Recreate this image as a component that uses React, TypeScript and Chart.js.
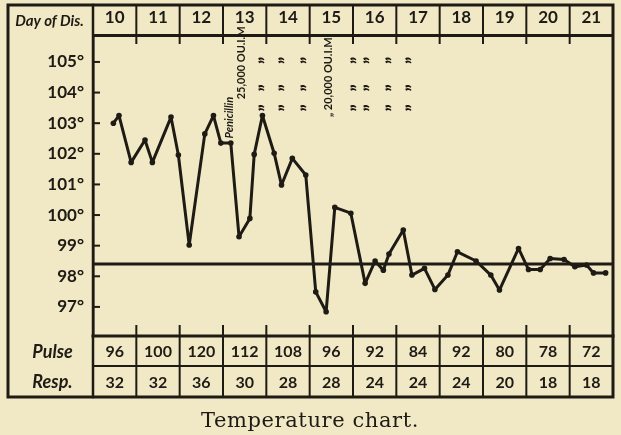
import React, { useEffect, useRef } from 'react';
import { Chart, registerables } from 'chart.js';

Chart.register(...registerables);

// ---- data ----
const dayLabels = ['10', '11', '12', '13', '14', '15', '16', '17', '18', '19', '20', '21'];
const pulseValues = [96, 100, 120, 112, 108, 96, 92, 84, 92, 80, 78, 72];
const respValues = [32, 32, 36, 30, 28, 28, 24, 24, 24, 20, 18, 18];
const tempTickValues = [97, 98, 99, 100, 101, 102, 103, 104, 105];
const normalTemp = 98.4;

// reading times (day of disease, fractional) and temperatures (°F)
const tempTimes = [
  10.47, 10.6, 10.88, 11.2, 11.37, 11.8, 11.97, 12.22, 12.58, 12.78, 12.95, 13.18,
  13.37, 13.62, 13.72, 13.91, 14.18, 14.35, 14.6, 14.91, 15.14, 15.38, 15.58, 15.95,
  16.28, 16.51, 16.7, 16.83, 17.16, 17.36, 17.65, 17.89, 18.19, 18.41, 18.84, 19.18,
  19.38, 19.82, 20.05, 20.32, 20.55, 20.87, 21.12, 21.39, 21.55, 21.83,
];
const tempValues = [
  103.0, 103.25, 101.72, 102.45, 101.72, 103.2, 101.96, 99.02, 102.65, 103.25, 102.35, 102.35,
  99.29, 99.89, 101.98, 103.25, 102.02, 100.98, 101.85, 101.31, 97.49, 96.84, 100.25, 100.06,
  97.77, 98.5, 98.2, 98.73, 99.51, 98.04, 98.26, 97.57, 98.04, 98.8, 98.5, 98.04,
  97.55, 98.91, 98.22, 98.22, 98.58, 98.55, 98.31, 98.37, 98.11, 98.11,
];

// penicillin notes
const noteTexts = ['Penicillin', '25,000 OU.I.M', '„ 20,000 OU.I.M'];
const noteTimes = [13.22, 13.5, 15.52];
const noteStartTemps = [102.5, 103.78, 103.2];
const dittoTimes = [13.92, 14.38, 14.89, 16.05, 16.35, 16.85, 17.32];
const dittoTemps = [105.05, 104.15, 103.5];

const captionText = 'Temperature chart.';

const PAPER = '#f1e9c6';
const INK = '#1e1a14';

const tablePlugin = {
  id: 'tempTable',
  beforeDraw(chart: any) {
    const { ctx, width, height } = chart;
    ctx.save();
    ctx.fillStyle = PAPER;
    ctx.fillRect(0, 0, width, height);
    ctx.restore();
  },
  afterDraw(chart: any) {
    const { ctx, chartArea } = chart;
    const xs = chart.scales.x;
    const ys = chart.scales.y;
    const L = 8, T = 5, R = chartArea.right, B = 397;
    const pulseTop = chartArea.bottom;
    const respTop = 366;
    ctx.save();
    ctx.strokeStyle = INK;
    ctx.fillStyle = INK;
    ctx.lineCap = 'square';

    // outer box
    ctx.lineWidth = 3;
    ctx.strokeRect(L, T, R - L, B - T);
    // left column separator
    ctx.lineWidth = 2.5;
    ctx.beginPath();
    ctx.moveTo(chartArea.left, T);
    ctx.lineTo(chartArea.left, B);
    ctx.stroke();
    // pulse top line
    ctx.lineWidth = 3;
    ctx.beginPath();
    ctx.moveTo(chartArea.left, pulseTop);
    ctx.lineTo(R, pulseTop);
    ctx.stroke();
    // pulse / resp separator
    ctx.lineWidth = 2;
    ctx.beginPath();
    ctx.moveTo(chartArea.left, respTop);
    ctx.lineTo(R, respTop);
    ctx.stroke();

    // column boundaries
    ctx.lineWidth = 2;
    for (let i = 1; i < dayLabels.length; i++) {
      const x = xs.getPixelForValue(10 + i);
      ctx.beginPath();
      ctx.moveTo(x, T);
      ctx.lineTo(x, chartArea.top + 8);
      ctx.moveTo(x, pulseTop - 10);
      ctx.lineTo(x, B);
      ctx.stroke();
    }

    // y tick marks inside plot
    ctx.lineWidth = 2;
    tempTickValues.forEach((v) => {
      const y = ys.getPixelForValue(v);
      ctx.beginPath();
      ctx.moveTo(chartArea.left, y);
      ctx.lineTo(chartArea.left + 6, y);
      ctx.stroke();
    });

    // pulse & resp values
    ctx.textAlign = 'center';
    ctx.textBaseline = 'middle';
    ctx.font = 'bold 16px Lato';
    dayLabels.forEach((_, i) => {
      const x = xs.getPixelForValue(10.5 + i);
      ctx.fillText(String(pulseValues[i]), x, (pulseTop + respTop) / 2 + 1);
      ctx.fillText(String(respValues[i]), x, (respTop + B) / 2 + 1);
    });

    // left labels
    ctx.font = 'italic bold 15px Lato';
    ctx.fillText('Day of Dis.', (L + chartArea.left) / 2 - 1, (T + chartArea.top) / 2 + 1);
    ctx.font = 'italic bold 18px Lato';
    ctx.fillText('Pulse', (L + chartArea.left) / 2 + 2, (pulseTop + respTop) / 2 + 1);
    ctx.fillText('Resp.', (L + chartArea.left) / 2 + 2, (respTop + B) / 2 + 1);

    // rotated notes
    ctx.textAlign = 'left';
    ctx.textBaseline = 'alphabetic';
    noteTexts.forEach((t, i) => {
      const x = xs.getPixelForValue(noteTimes[i]);
      const y = ys.getPixelForValue(noteStartTemps[i]);
      ctx.save();
      ctx.translate(x, y);
      ctx.rotate(-Math.PI / 2);
      ctx.font = i === 0 ? 'italic bold 11px Lato' : 'bold 11px Lato';
      ctx.fillText(t, 0, 0);
      ctx.restore();
    });
    // ditto marks
    ctx.textAlign = 'center';
    ctx.textBaseline = 'middle';
    dittoTimes.forEach((tx) => {
      dittoTemps.forEach((ty) => {
        const x = xs.getPixelForValue(tx);
        const y = ys.getPixelForValue(ty);
        ctx.save();
        ctx.translate(x, y);
        ctx.rotate(-Math.PI / 2);
        ctx.font = '900 18px Lato';
        ctx.fillText('\u201D', 0, 4);
        ctx.restore();
      });
    });

    // caption
    ctx.textAlign = 'center';
    ctx.textBaseline = 'alphabetic';
    ctx.font = '21px "DejaVu Serif"';
    (ctx as any).letterSpacing = '0.6px';
    ctx.fillText(captionText, 310, 427);
    ctx.restore();
  },
};

export default function App() {
  const ref = useRef<HTMLCanvasElement | null>(null);
  useEffect(() => {
    if (!ref.current) return;
    const chart = new Chart(ref.current, {
      type: 'line',
      data: {
        datasets: [
          {
            label: 'Normal',
            data: [
              { x: 10, y: normalTemp },
              { x: 22, y: normalTemp },
            ],
            borderColor: INK,
            borderWidth: 3,
            pointRadius: 0,
          },
          {
            label: 'Temperature',
            data: tempTimes.map((t, i) => ({ x: t, y: tempValues[i] })),
            borderColor: INK,
            backgroundColor: INK,
            borderWidth: 3,
            borderJoinStyle: 'round',
            borderCapStyle: 'round',
            pointRadius: 2.8,
            pointBackgroundColor: INK,
            pointBorderWidth: 0,
            tension: 0,
          },
        ],
      },
      options: {
        animation: false,
        responsive: false,
        devicePixelRatio: 1,
        layout: { padding: { left: 8, top: 6, right: 8, bottom: 99 } },
        plugins: { legend: { display: false }, tooltip: { enabled: false } },
        scales: {
          x: {
            type: 'linear',
            position: 'top',
            min: 10,
            max: 22,
            afterFit: (s: any) => {
              s.height = 29;
            },
            afterBuildTicks: (s: any) => {
              s.ticks = dayLabels.map((_, i) => ({ value: 10.5 + i }));
            },
            ticks: {
              autoSkip: false,
              maxRotation: 0,
              padding: 7,
              color: INK,
              font: { family: 'Lato', size: 17, weight: 'bold' },
              callback: (v: any) => dayLabels[Math.floor(Number(v)) - 10],
            },
            grid: { display: false, drawTicks: false },
            border: { display: true, color: INK, width: 3 },
          },
          y: {
            type: 'linear',
            position: 'left',
            min: 96.05,
            max: 105.88,
            afterFit: (s: any) => {
              s.width = 85;
            },
            afterBuildTicks: (s: any) => {
              s.ticks = tempTickValues.map((v) => ({ value: v }));
            },
            ticks: {
              padding: 9,
              color: INK,
              font: { family: 'Lato', size: 17, weight: 'bold' },
              callback: (v: any) => `${v}°`,
            },
            grid: { display: false, drawTicks: false },
            border: { display: true, color: INK, width: 2.5 },
          },
        },
      },
      plugins: [tablePlugin],
    } as any);
    return () => chart.destroy();
  }, []);
  return (
    <div style={{ position: 'fixed', left: 0, top: 0, width: 621, height: 435, background: PAPER }}>
      <canvas ref={ref} width={621} height={435} style={{ display: 'block' }} />
    </div>
  );
}
